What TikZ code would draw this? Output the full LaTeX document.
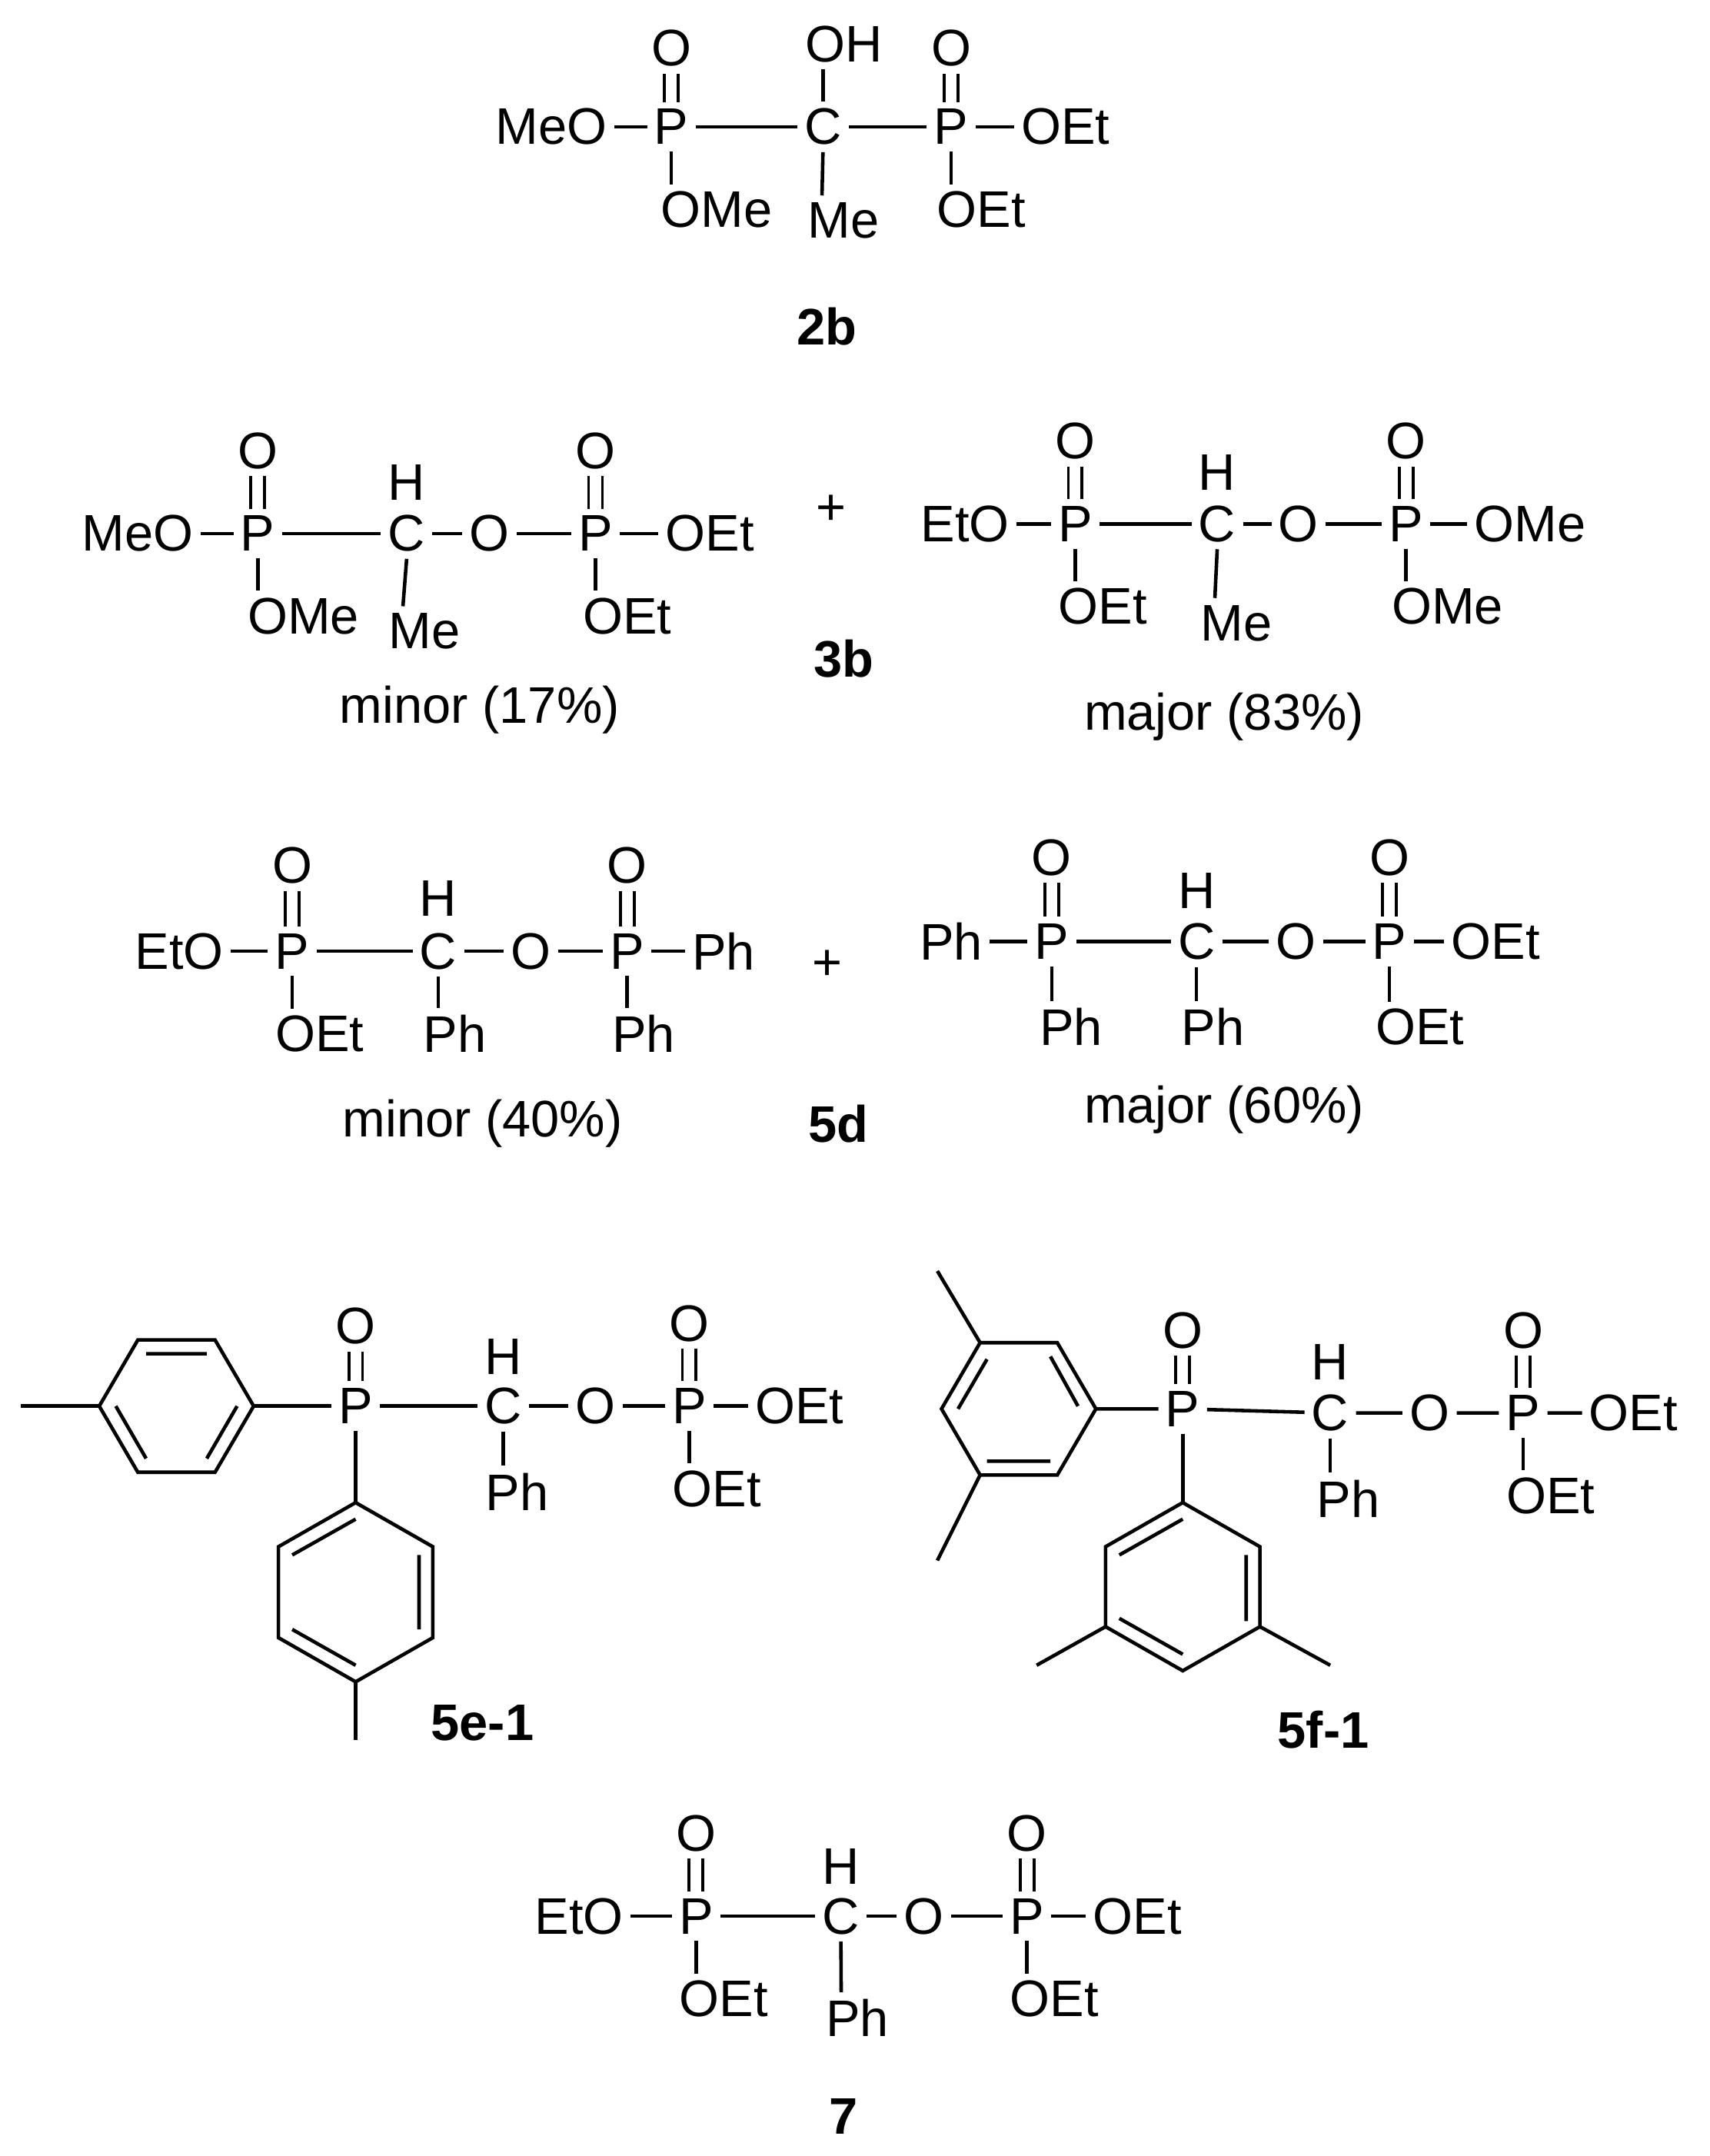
\documentclass[tikz,border=0pt]{standalone}
\usepackage{fontspec}
\setmainfont{Liberation Sans}
\begin{document}
\begin{tikzpicture}[x=0.01792cm,y=-0.01792cm,line width=1.3pt,
  atom/.style={inner sep=2pt,font=\fontsize{19}{21}\selectfont},
  lbl/.style={inner sep=2pt,font=\fontsize{19}{21}\selectfont\bfseries},
  dbl/.style={double distance=4pt,line width=1.1pt}]
\useasboundingbox (0,0) rectangle (1240,1564);

% 2b
\node[atom] (aMeO) at (400,92) {MeO};
\node[atom] (aP) at (487,92) {P};
\node[atom] (aO) at (487,35) {O};
\node[atom] (aOMe) at (520,152) {OMe};
\node[atom] (aC) at (597,92) {C};
\node[atom] (aOH) at (612,32) {OH};
\node[atom] (aMe) at (612,160) {Me};
\node[atom] (aP2) at (690,92) {P};
\node[atom] (aO2) at (690,35) {O};
\node[atom] (aOEt) at (773,92) {OEt};
\node[atom] (aOEt2) at (712,152) {OEt};
\node[lbl] (l2b) at (600,237) {2b};
\draw (aMeO) -- (aP) -- (aC) -- (aP2) -- (aOEt);
\draw[dbl] (aP) -- (aO);
\draw[dbl] (aP2) -- (aO2);
\draw (aP.south) -- (aP.south |- aOMe.north);
\draw (aP2.south) -- (aP2.south |- aOEt2.north);
\draw (aC.north) -- (aC.north |- aOH.south);
\draw (aC.south) -- ([xshift=-8]aMe.north);

% 3b minor
\node[atom] (bMeO) at (100,387) {MeO};
\node[atom] (bP) at (187,387) {P};
\node[atom] (bO) at (187,327) {O};
\node[atom] (bOMe) at (220,447) {OMe};
\node[atom] (bC) at (295,387) {C};
\node[atom] (bH) at (295,350) {H};
\node[atom] (bMe) at (308,458) {Me};
\node[atom] (bO3) at (355,387) {O};
\node[atom] (bP2) at (432,387) {P};
\node[atom] (bO2) at (432,327) {O};
\node[atom] (bOEt) at (515,387) {OEt};
\node[atom] (bOEt2) at (455,447) {OEt};
\node[atom] (bnote) at (348,515) {minor (17\%)};
\draw (bMeO) -- (bP) -- (bC) -- (bO3) -- (bP2) -- (bOEt);
\draw[dbl] (bP) -- (bO);
\draw[dbl] (bP2) -- (bO2);
\draw (bP.south) -- (bP.south |- bOMe.north);
\draw (bP2.south) -- (bP2.south |- bOEt2.north);
\draw (bC.south) -- ([xshift=-8]bMe.north);
\node[atom] (plus1) at (603,370) {+};
\node[lbl] (l3b) at (612,478) {3b};

% 3b major
\node[atom] (cEtO) at (700,380) {EtO};
\node[atom] (cP) at (780,380) {P};
\node[atom] (cO) at (780,320) {O};
\node[atom] (cOEt) at (800,440) {OEt};
\node[atom] (cC) at (883,380) {C};
\node[atom] (cH) at (883,343) {H};
\node[atom] (cMe) at (897,452) {Me};
\node[atom] (cO3) at (942,380) {O};
\node[atom] (cP2) at (1020,380) {P};
\node[atom] (cO2) at (1020,320) {O};
\node[atom] (cOMe) at (1110,380) {OMe};
\node[atom] (cOMe2) at (1050,440) {OMe};
\node[atom] (cnote) at (888,520) {major (83\%)};
\draw (cEtO) -- (cP) -- (cC) -- (cO3) -- (cP2) -- (cOMe);
\draw[dbl] (cP) -- (cO);
\draw[dbl] (cP2) -- (cO2);
\draw (cP.south) -- (cP.south |- cOEt.north);
\draw (cP2.south) -- (cP2.south |- cOMe2.north);
\draw (cC.south) -- ([xshift=-8]cMe.north);

% 5d minor
\node[atom] (dEtO) at (130,690) {EtO};
\node[atom] (dP) at (212,690) {P};
\node[atom] (dO) at (212,628) {O};
\node[atom] (dOEt) at (232,750) {OEt};
\node[atom] (dC) at (318,690) {C};
\node[atom] (dH) at (318,652) {H};
\node[atom] (dPh) at (330,750) {Ph};
\node[atom] (dO3) at (385,690) {O};
\node[atom] (dP2) at (455,690) {P};
\node[atom] (dO2) at (455,628) {O};
\node[atom] (dPh2) at (525,690) {Ph};
\node[atom] (dPh3) at (467,750) {Ph};
\node[atom] (dnote) at (350,815) {minor (40\%)};
\draw (dEtO) -- (dP) -- (dC) -- (dO3) -- (dP2) -- (dPh2);
\draw[dbl] (dP) -- (dO);
\draw[dbl] (dP2) -- (dO2);
\draw (dP.south) -- (dP.south |- dOEt.north);
\draw (dP2.south) -- (dP2.south |- dPh3.north);
\draw (dC.south) -- (dC.south |- dPh.north);
\node[atom] (plus2) at (600,700) {+};
\node[lbl] (l5d) at (608,815) {5d};

% 5d major
\node[atom] (ePh) at (690,683) {Ph};
\node[atom] (eP) at (763,683) {P};
\node[atom] (eO) at (763,622) {O};
\node[atom] (ePh2) at (777,745) {Ph};
\node[atom] (eC) at (868,683) {C};
\node[atom] (eH) at (868,646) {H};
\node[atom] (ePh3) at (880,745) {Ph};
\node[atom] (eO3) at (940,683) {O};
\node[atom] (eP2) at (1008,683) {P};
\node[atom] (eO2) at (1008,622) {O};
\node[atom] (eOEt) at (1085,683) {OEt};
\node[atom] (eOEt2) at (1030,745) {OEt};
\node[atom] (enote) at (888,805) {major (60\%)};
\draw (ePh) -- (eP) -- (eC) -- (eO3) -- (eP2) -- (eOEt);
\draw[dbl] (eP) -- (eO);
\draw[dbl] (eP2) -- (eO2);
\draw (eP.south) -- (eP.south |- ePh2.north);
\draw (eP2.south) -- (eP2.south |- eOEt2.north);
\draw (eC.south) -- (eC.south |- ePh3.north);

% 5e-1
\node[atom] (fP) at (258,1020) {P};
\node[atom] (fO) at (258,962) {O};
\node[atom] (fC) at (365,1020) {C};
\node[atom] (fH) at (365,984) {H};
\node[atom] (fPh) at (375,1082) {Ph};
\node[atom] (fO3) at (432,1020) {O};
\node[atom] (fP2) at (500,1020) {P};
\node[atom] (fO2) at (500,960) {O};
\node[atom] (fOEt) at (580,1020) {OEt};
\node[atom] (fOEt2) at (520,1080) {OEt};
\node[lbl] (l5e) at (350,1250) {5e-1};
\coordinate (fr1) at (184,1020);
\coordinate (fr4) at (72,1020);
\coordinate (fMe1) at (15,1020);
\coordinate (fs1) at (258,1090);
\coordinate (fs4) at (258,1220);
\coordinate (fMe2) at (258,1262);
\draw (fr1) -- (156,972) -- (100,972) -- (fr4) -- (100,1068) -- (156,1068) -- cycle;
\draw (150,982) -- (106,982) (84,1020) -- (106,1058) (150,1058) -- (172,1020);
\draw (fs1) -- (314,1122) -- (314,1188) -- (fs4) -- (202,1188) -- (202,1122) -- cycle;
\draw (304,1128) -- (304,1182) (258,1208) -- (212,1182) (212,1128) -- (258,1102);
\draw (fr4) -- (fMe1);
\draw (fs4) -- (fMe2);
\draw (fr1) -- (fP) -- (fC) -- (fO3) -- (fP2) -- (fOEt);
\draw (fP) -- (fs1);
\draw[dbl] (fP) -- (fO);
\draw[dbl] (fP2) -- (fO2);
\draw (fP2.south) -- (fP2.south |- fOEt2.north);
\draw (fC.south) -- (fC.south |- fPh.north);

% 5f-1
\node[atom] (gP) at (858,1022) {P};
\node[atom] (gO) at (858,965) {O};
\node[atom] (gC) at (965,1025) {C};
\node[atom] (gH) at (965,988) {H};
\node[atom] (gPh) at (978,1087) {Ph};
\node[atom] (gO3) at (1037,1025) {O};
\node[atom] (gP2) at (1105,1025) {P};
\node[atom] (gO2) at (1105,965) {O};
\node[atom] (gOEt) at (1185,1025) {OEt};
\node[atom] (gOEt2) at (1125,1085) {OEt};
\node[lbl] (l5f) at (960,1255) {5f-1};
\coordinate (gr1) at (795,1022);
\coordinate (gr3) at (711,974);
\coordinate (gr5) at (711,1070);
\coordinate (gMe1) at (680,922);
\coordinate (gMe2) at (680,1132);
\coordinate (gs1) at (858,1090);
\coordinate (gs3) at (914,1180);
\coordinate (gs5) at (802,1180);
\coordinate (gMe3) at (965,1208);
\coordinate (gMe4) at (752,1208);
\draw (gr1) -- (767,974) -- (gr3) -- (683,1022) -- (gr5) -- (767,1070) -- cycle;
\draw (762,984) -- (782,1020) (695,1022) -- (716,986) (716,1060) -- (762,1060);
\draw (gs1) -- (914,1122) -- (gs3) -- (858,1212) -- (gs5) -- (802,1122) -- cycle;
\draw (904,1128) -- (904,1176) (858,1200) -- (812,1174) (812,1128) -- (858,1102);
\draw (gr3) -- (gMe1) (gr5) -- (gMe2) (gs3) -- (gMe3) (gs5) -- (gMe4);
\draw (gr1) -- (gP) -- (gC) -- (gO3) -- (gP2) -- (gOEt);
\draw (gP) -- (gs1);
\draw[dbl] (gP) -- (gO);
\draw[dbl] (gP2) -- (gO2);
\draw (gP2.south) -- (gP2.south |- gOEt2.north);
\draw (gC.south) -- (gC.south |- gPh.north);

% 7
\node[atom] (hEtO) at (420,1390) {EtO};
\node[atom] (hP) at (505,1390) {P};
\node[atom] (hO) at (505,1330) {O};
\node[atom] (hOEt) at (525,1450) {OEt};
\node[atom] (hC) at (610,1390) {C};
\node[atom] (hH) at (610,1354) {H};
\node[atom] (hPh) at (622,1464) {Ph};
\node[atom] (hO3) at (670,1390) {O};
\node[atom] (hP2) at (745,1390) {P};
\node[atom] (hO2) at (745,1330) {O};
\node[atom] (hOEt2) at (825,1390) {OEt};
\node[atom] (hOEt3) at (765,1450) {OEt};
\node[lbl] (l7) at (612,1535) {7};
\draw (hEtO) -- (hP) -- (hC) -- (hO3) -- (hP2) -- (hOEt2);
\draw[dbl] (hP) -- (hO);
\draw[dbl] (hP2) -- (hO2);
\draw (hP.south) -- (hP.south |- hOEt.north);
\draw (hP2.south) -- (hP2.south |- hOEt3.north);
\draw (hC.south) -- ([xshift=-6]hPh.north);
\end{tikzpicture}
\end{document}
